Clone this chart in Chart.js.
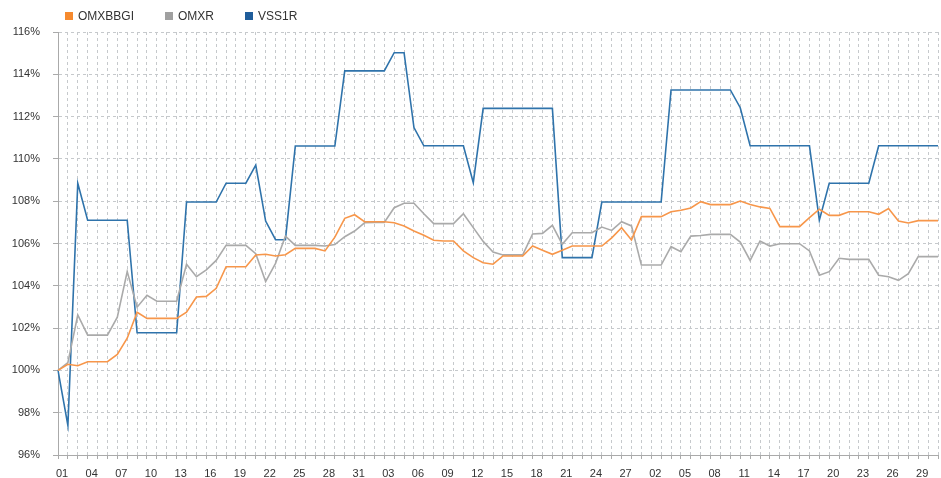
<!DOCTYPE html>
<html>
<head>
<meta charset="utf-8">
<script src="https://cdn.jsdelivr.net/npm/chart.js@4/dist/chart.umd.min.js"></script>
<style>
    body { margin: 0; background: #fff; }
    #wrap { position: relative; width: 941px; height: 478px; }
    #legend { position: absolute; left: 65px; top: 9px; display: flex; gap: 31px;
              font: 12px "Liberation Sans", Arial, sans-serif; color: #333; }
    #legend span.item { display: flex; align-items: center; }
    #legend span.box { width: 8px; height: 8px; margin-right: 5px; display: inline-block; }
</style>
</head>
<body>
<div id="wrap">
    <canvas id="chart" width="941" height="478"></canvas>
    <div id="legend"></div>
</div>
<script>
// one label per day, 1 Jan - 31 Mar
const days = [
    "01","02","03","04","05","06","07","08","09","10","11","12","13","14","15","16",
    "17","18","19","20","21","22","23","24","25","26","27","28","29","30","31",
    "01","02","03","04","05","06","07","08","09","10","11","12","13","14","15","16",
    "17","18","19","20","21","22","23","24","25","26","27","28",
    "01","02","03","04","05","06","07","08","09","10","11","12","13","14","15","16",
    "17","18","19","20","21","22","23","24","25","26","27","28","29","30","31"
];

const omxbbgi = [
    100, 100.29, 100.22, 100.41, 100.41, 100.41, 100.76, 101.52, 102.75, 102.46,
    102.46, 102.46, 102.46, 102.75, 103.47, 103.5, 103.88, 104.9, 104.9, 104.9,
    105.46, 105.49, 105.41, 105.47, 105.77, 105.77, 105.77, 105.65, 106.3, 107.19,
    107.36, 107.03, 107.03, 107.03, 106.98, 106.83, 106.59, 106.39, 106.15, 106.12,
    106.12, 105.65, 105.33, 105.09, 105.02, 105.41, 105.41, 105.41, 105.88, 105.68,
    105.49, 105.68, 105.88, 105.88, 105.88, 105.88, 106.27, 106.75, 106.17, 107.27,
    107.27, 107.27, 107.5, 107.57, 107.68, 107.98, 107.84, 107.84, 107.84, 108.01,
    107.84, 107.73, 107.66, 106.8, 106.8, 106.8, 107.22, 107.62, 107.33, 107.33,
    107.5, 107.5, 107.5, 107.38, 107.65, 107.06, 106.97, 107.08, 107.08, 107.08
];

const omxr = [
    100, 100.37, 102.62, 101.67, 101.67, 101.67, 102.52, 104.67, 102.99, 103.55,
    103.27, 103.27, 103.27, 105.02, 104.43, 104.75, 105.2, 105.91, 105.91, 105.91,
    105.52, 104.2, 105.06, 106.35, 105.91, 105.91, 105.91, 105.88, 105.95, 106.32,
    106.59, 106.98, 106.99, 107.0, 107.69, 107.9, 107.9, 107.41, 106.94, 106.94,
    106.94, 107.41, 106.75, 106.1, 105.6, 105.46, 105.46, 105.46, 106.45, 106.48,
    106.86, 105.96, 106.51, 106.51, 106.51, 106.78, 106.62, 107.03, 106.83, 104.98,
    104.98, 104.98, 105.85, 105.61, 106.35, 106.38, 106.43, 106.43, 106.43, 106.07,
    105.2, 106.12, 105.88, 105.99, 105.99, 105.99, 105.65, 104.5, 104.67, 105.3,
    105.25, 105.25, 105.25, 104.5, 104.43, 104.26, 104.57, 105.38, 105.38, 105.38
];

const vss1r = [
    100, 97.4, 108.85, 107.1, 107.1, 107.1, 107.1, 107.1, 101.78, 101.78,
    101.78, 101.78, 101.78, 107.96, 107.96, 107.96, 107.96, 108.85, 108.85, 108.85,
    109.71, 107.06, 106.18, 106.18, 110.61, 110.61, 110.61, 110.61, 110.61, 114.16,
    114.16, 114.16, 114.16, 114.16, 115.02, 115.02, 111.48, 110.62, 110.62, 110.62,
    110.62, 110.62, 108.88, 112.39, 112.39, 112.39, 112.39, 112.39, 112.39, 112.39,
    112.39, 105.33, 105.33, 105.33, 105.33, 107.96, 107.96, 107.96, 107.96, 107.96,
    107.96, 107.96, 113.26, 113.26, 113.26, 113.26, 113.26, 113.26, 113.26, 112.42,
    110.62, 110.62, 110.62, 110.62, 110.62, 110.62, 110.62, 107.1, 108.85, 108.85,
    108.85, 108.85, 108.85, 110.62, 110.62, 110.62, 110.62, 110.62, 110.62, 110.62
];

const yTicks = [96, 98, 100, 102, 104, 106, 108, 110, 112, 114, 116];

const series = [
    { label: "OMXBBGI", data: omxbbgi, line: "#f7964a", box: "#f68a2e" },
    { label: "OMXR", data: omxr, line: "#aaaaaa", box: "#a0a0a0" },
    { label: "VSS1R", data: vss1r, line: "#2f73ab", box: "#1f5d9b" }
];

// html legend
const legend = document.getElementById("legend");
series.forEach(s => {
    let item = document.createElement("span");
    item.className = "item";
    item.innerHTML = `<span class="box" style="background:${s.box}"></span>${s.label}`;
    legend.appendChild(item);
});

const font = { family: "'Liberation Sans', Arial, sans-serif", size: 11 };

new Chart(document.getElementById("chart"), {
    type: "line",
    data: {
        labels: days,
        datasets: series.map(s => ({
            label: s.label,
            data: s.data,
            borderColor: s.line,
            backgroundColor: s.line,
            borderWidth: 1.6,
            pointRadius: 0,
            tension: 0
        }))
    },
    options: {
        responsive: false,
        animation: false,
        layout: { padding: { top: 32, right: 3, bottom: 0, left: 0 } },
        plugins: { legend: { display: false }, tooltip: { enabled: false } },
        scales: {
            x: {
                offset: false,
                grid: { color: "#c6c9cc", tickLength: 4, tickColor: "#aaa" },
                border: { color: "#aaa", width: 1, dash: [3, 3] },
                ticks: {
                    autoSkip: false,
                    maxRotation: 0,
                    padding: 8,
                    labelOffset: 4,
                    color: "#333",
                    font: font,
                    callback: (v, i) => (i % 3 === 0 ? days[i] : "")
                },
                afterFit: s => {
                    s.height = 23;
                    s.paddingLeft = 0;
                    s.paddingRight = 0;
                }
            },
            y: {
                min: 96,
                max: 116,
                afterBuildTicks: s => { s.ticks = yTicks.map(v => ({ value: v })); },
                grid: { color: "#c6c9cc", tickLength: 5, tickColor: "#aaa" },
                border: { color: "#aaa", width: 1, dash: [3, 3] },
                ticks: {
                    padding: 13,
                    color: "#333",
                    font: font,
                    callback: v => v + "%"
                },
                afterFit: s => { s.width = 58; }
            }
        }
    }
});
</script>
</body>
</html>
